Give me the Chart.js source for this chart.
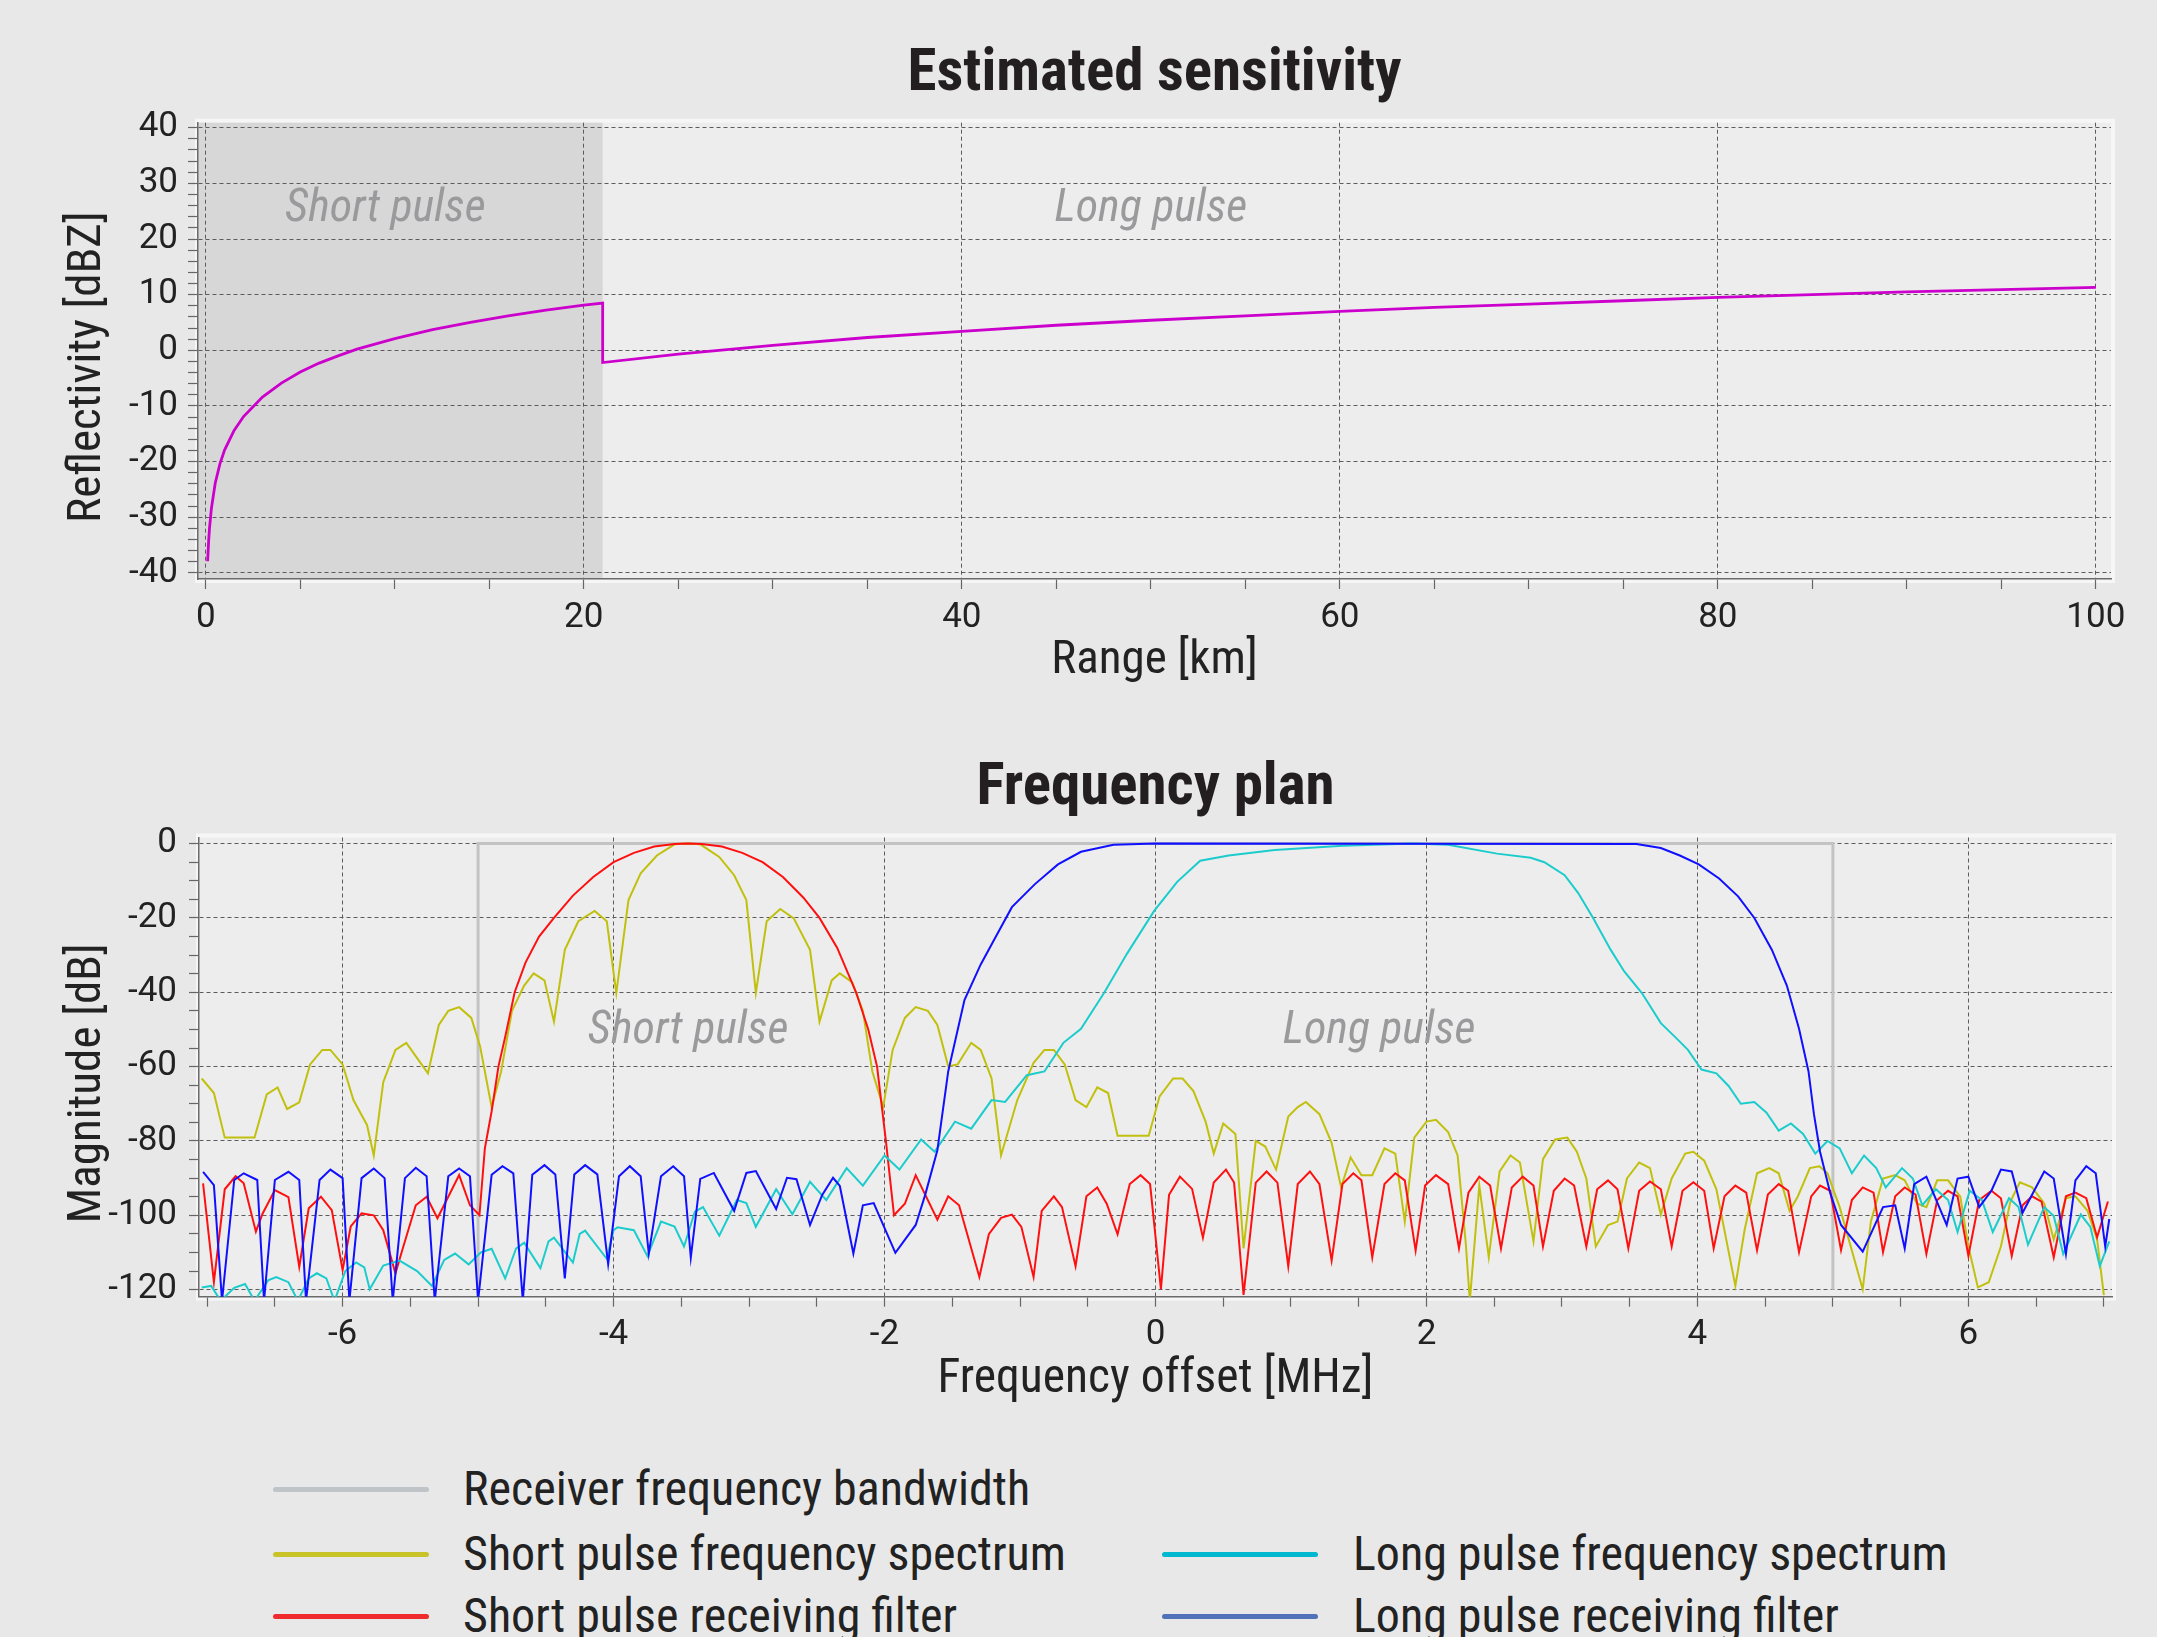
<!DOCTYPE html>
<html><head><meta charset="utf-8">
<script src="https://cdn.jsdelivr.net/npm/chart.js@4.4.1/dist/chart.umd.min.js"></script>
<style>
html,body{margin:0;padding:0;background:#e8e8e8;width:2157px;height:1637px;overflow:hidden;}
#c1{position:absolute;left:0;top:0;}
#c2{position:absolute;left:0;top:700px;}
.lg-line{position:absolute;height:5px;border-radius:3px;}
.lg-text{position:absolute;font-family:'Roboto Condensed',Roboto,sans-serif;font-size:48px;line-height:56px;color:#222;white-space:nowrap;}
</style></head><body>
<canvas id="c1" width="2157" height="700"></canvas>
<canvas id="c2" width="2157" height="720"></canvas>
<div id="legend"></div>
<script>
// ---------------- DATA ----------------
// Top chart: estimated sensitivity (range km, reflectivity dBZ)
const sensitivityPts = [
 [0.1,-37.9],[0.15,-34.4],[0.2,-31.9],[0.3,-28.4],[0.5,-23.9],[0.75,-20.4],[1,-17.9],[1.5,-14.4],
 [2,-11.9],[3,-8.4],[4,-5.9],[5,-3.9],[6,-2.3],[7,-1.0],[8,0.2],[10,2.1],[12,3.7],[14,5.0],
 [16,6.2],[18,7.2],[20,8.1],[21,8.5],[21,-2.2],[25,-0.7],[30,0.9],[35,2.3],[40,3.4],[45,4.5],
 [50,5.4],[55,6.2],[60,7.0],[65,7.7],[70,8.3],[75,8.9],[80,9.5],[85,10.0],[90,10.5],[95,10.9],[100,11.3]
];
const SHORT_PULSE_END_KM = 21;
const rangeTickLabels = [0,20,40,60,80,100];
const reflTickLabels = [-40,-30,-20,-10,0,10,20,30,40];
const topRegionLabels = ['Short pulse','Long pulse'];
const topRegionLabelX = [9.5, 50];
const topRegionLabelY = [25.3, 25.3];

// Bottom chart: frequency plan (offset MHz, magnitude dB)
const bandwidthPts = [[-5,-120],[-5,0],[5,0],[5,-120]];
const shortSpectrumPts = [
 [-7.04,-63.2],[-6.95,-67.1],[-6.87,-79.1],[-6.65,-79.1],[-6.56,-67.5],[-6.48,-65.6],[-6.41,-71.4],[-6.32,-69.6],
 [-6.24,-59.4],[-6.15,-55.5],[-6.09,-55.5],[-6.00,-59.4],[-5.92,-69],[-5.82,-75.7],[-5.77,-83.9],[-5.70,-64.2],
 [-5.61,-55.5],[-5.53,-53.6],[-5.37,-61.8],[-5.29,-48.8],[-5.22,-45],[-5.14,-44],[-5.05,-46.9],[-4.985,-54.6],
 [-4.90,-70.9],[-4.83,-61.3],[-4.75,-45],[-4.66,-38.2],[-4.59,-34.9],[-4.51,-36.8],[-4.44,-47.9],[-4.36,-28.6],
 [-4.26,-20.9],[-4.14,-18.1],[-4.05,-20.9],[-3.98,-40.2],[-3.89,-15.2],[-3.80,-8.0],[-3.68,-3.2],[-3.55,-0.2],
 [-3.45,0],[-3.36,-0.2],[-3.22,-3.6],[-3.11,-8.5],[-3.02,-15.2],[-2.95,-40.2],[-2.87,-20.9],[-2.77,-17.6],
 [-2.67,-20.1],[-2.55,-28.6],[-2.48,-47.9],[-2.39,-36.8],[-2.33,-34.9],[-2.24,-37.3],[-2.16,-45],[-2.09,-61.3],
 [-2.01,-70.9],[-1.94,-55.5],[-1.85,-46.9],[-1.77,-44],[-1.68,-45],[-1.61,-48.8],[-1.53,-59.9],[-1.46,-59.4],
 [-1.36,-53.6],[-1.29,-55.5],[-1.21,-63.2],[-1.14,-83.9],[-1.02,-69],[-0.90,-59],[-0.82,-55.5],[-0.75,-55.5],
 [-0.67,-59.4],[-0.59,-69],[-0.51,-70.9],[-0.43,-65.6],[-0.35,-67.1],[-0.28,-78.6],[-0.05,-78.6],[0.03,-68],
 [0.13,-63.2],[0.20,-63.2],[0.28,-66.6],[0.37,-74.8],[0.43,-83.4],[0.50,-75.3],[0.59,-78.1],[0.65,-108.9],
 [0.74,-80],[0.81,-81.5],[0.89,-87.7],[0.98,-73.4],[1.05,-70.9],[1.11,-69.5],[1.21,-72.8],[1.30,-80.5],
 [1.37,-92.5],[1.44,-84.4],[1.52,-89.2],[1.60,-89.2],[1.69,-82],[1.77,-83.4],[1.84,-101.7],[1.91,-79.1],
 [2.00,-74.8],[2.07,-74.3],[2.16,-77.6],[2.23,-83.9],[2.29,-107.5],[2.32,-123],[2.39,-92],[2.46,-111.3],
 [2.54,-88.2],[2.62,-83.9],[2.69,-85.8],[2.79,-107],[2.86,-84.9],[2.95,-79.6],[3.04,-79.1],[3.11,-82.9],
 [3.18,-90.1],[3.25,-108.4],[3.34,-102.6],[3.41,-101.7],[3.48,-90.1],[3.57,-85.8],[3.65,-87.3],[3.73,-99.8],
 [3.81,-90.1],[3.91,-83.4],[3.97,-82.9],[4.05,-85.3],[4.14,-93],[4.28,-119],[4.35,-103.6],[4.44,-88.7],
 [4.53,-87.3],[4.60,-88.7],[4.68,-98.8],[4.74,-95],[4.83,-87.3],[4.90,-86.8],[4.96,-88.7],[5.05,-97.8],
 [5.22,-119.9],[5.28,-101.7],[5.37,-90.1],[5.46,-89.2],[5.53,-90.6],[5.62,-96.8],[5.69,-97.8],[5.77,-90.6],
 [5.85,-90.6],[5.94,-95],[6.00,-108.4],[6.07,-119.4],[6.15,-118],[6.24,-108.4],[6.31,-96.3],[6.38,-91.1],
 [6.47,-92.5],[6.56,-96.8],[6.63,-106.5],[6.72,-95.4],[6.79,-94.9],[6.88,-98.8],[6.95,-106.5],[7.00,-121.5]
];
const shortFilterPts = [
 [-7.03,-91.4],[-6.95,-118],[-6.87,-93],[-6.79,-89.5],[-6.73,-91.4],[-6.64,-104.4],[-6.59,-99.5],[-6.50,-93.2],
 [-6.40,-95.1],[-6.32,-113.9],[-6.25,-98.1],[-6.16,-95],[-6.08,-98.6],[-6.00,-114.7],[-5.94,-103],[-5.86,-99.5],
 [-5.77,-100],[-5.70,-104],[-5.61,-115.6],[-5.56,-109.4],[-5.46,-97.3],[-5.38,-95],[-5.30,-100.8],[-5.22,-95],
 [-5.14,-89.2],[-5.06,-97.3],[-4.99,-100],[-4.95,-82],[-4.90,-72],[-4.85,-60],[-4.80,-52],[-4.73,-40],
 [-4.65,-32],[-4.55,-25],[-4.44,-20],[-4.30,-14],[-4.15,-9],[-4.00,-5],[-3.85,-2.5],[-3.70,-0.8],
 [-3.55,-0.1],[-3.45,0],[-3.35,-0.1],[-3.20,-0.8],[-3.05,-2.5],[-2.90,-5],[-2.75,-9],[-2.60,-14.5],
 [-2.48,-20],[-2.35,-28],[-2.21,-40],[-2.12,-50],[-2.055,-60],[-1.99,-80],[-1.96,-90],[-1.93,-100],
 [-1.85,-96.9],[-1.77,-89.2],[-1.61,-101.2],[-1.53,-94.9],[-1.45,-97.3],[-1.30,-116.6],[-1.23,-105.1],[-1.14,-100.7],
 [-1.06,-99.8],[-0.99,-103.1],[-0.90,-116.6],[-0.84,-98.8],[-0.75,-94.9],[-0.69,-97.8],[-0.59,-113.7],[-0.51,-94.9],
 [-0.43,-92.5],[-0.36,-96.9],[-0.28,-105.1],[-0.19,-91.6],[-0.11,-89.2],[-0.04,-91.6],[0.04,-119.9],[0.10,-94.5],
 [0.18,-89.6],[0.27,-92.9],[0.35,-106],[0.43,-91.2],[0.52,-87.7],[0.58,-91.2],[0.65,-121.4],[0.74,-91.2],
 [0.82,-88.2],[0.90,-91.2],[0.98,-113.7],[1.05,-91.6],[1.14,-88.2],[1.21,-91.6],[1.30,-112.2],[1.38,-91.6],
 [1.46,-88.7],[1.52,-90.6],[1.60,-111.3],[1.69,-91.6],[1.77,-88.7],[1.84,-90.6],[1.92,-109.5],[1.99,-92],
 [2.07,-89.2],[2.16,-91.6],[2.24,-108.9],[2.31,-93.9],[2.39,-89.6],[2.47,-92],[2.55,-108.9],[2.63,-92.5],
 [2.71,-89.6],[2.79,-92],[2.86,-108.4],[2.94,-93.4],[3.02,-90.1],[3.09,-92],[3.18,-108.4],[3.26,-93],
 [3.34,-90.6],[3.41,-93],[3.49,-108.9],[3.57,-93.4],[3.65,-90.9],[3.73,-93],[3.81,-108.4],[3.89,-93.4],
 [3.97,-91.1],[4.05,-93.4],[4.12,-108.9],[4.20,-94.9],[4.28,-92],[4.36,-93.9],[4.44,-109.4],[4.52,-94.4],
 [4.60,-91.6],[4.67,-93.4],[4.75,-109.9],[4.84,-94.9],[4.905,-92],[4.98,-93.4],[5.06,-109.4],[5.14,-95.9],
 [5.22,-92.5],[5.30,-93.9],[5.37,-109.9],[5.46,-94.9],[5.53,-92.5],[5.61,-94.4],[5.69,-110.4],[5.77,-95.9],
 [5.85,-93.4],[5.92,-94.9],[6.00,-110.9],[6.08,-95.9],[6.17,-93.4],[6.24,-95.4],[6.32,-110.9],[6.40,-97.3],
 [6.47,-94.9],[6.54,-96.3],[6.63,-111.3],[6.72,-94.9],[6.79,-93.9],[6.87,-95.4],[6.95,-105.9],[7.03,-96.3]
];
const longSpectrumPts = [
 [-7.04,-119.4],[-6.97,-119],[-6.90,-123],[-6.80,-119.5],[-6.72,-118.5],[-6.65,-123],[-6.55,-117.5],[-6.49,-116.6],
 [-6.40,-118],[-6.33,-123],[-6.25,-117],[-6.19,-115.6],[-6.12,-117],[-6.06,-123],[-5.98,-115],[-5.90,-112.7],
 [-5.84,-114],[-5.80,-119.9],[-5.70,-113.5],[-5.58,-112.2],[-5.45,-115],[-5.34,-119],[-5.25,-112],[-5.17,-110.3],
 [-5.07,-113.2],[-4.98,-110],[-4.90,-109],[-4.80,-117],[-4.72,-109],[-4.66,-107.4],[-4.54,-114.2],[-4.48,-107],
 [-4.44,-106],[-4.30,-112.7],[-4.25,-105],[-4.21,-104.1],[-4.05,-111.7],[-4.00,-104],[-3.97,-103.2],[-3.85,-104],
 [-3.75,-111],[-3.65,-101.7],[-3.55,-103],[-3.48,-108.4],[-3.40,-99],[-3.34,-97.8],[-3.22,-105.5],[-3.09,-95.9],
 [-3.02,-96.7],[-2.95,-103.1],[-2.80,-93],[-2.68,-99.7],[-2.55,-91],[-2.43,-95.9],[-2.28,-87.3],[-2.16,-92],
 [-2.00,-83.9],[-1.89,-87.7],[-1.73,-79.6],[-1.63,-82.9],[-1.48,-74.8],[-1.36,-76.7],[-1.21,-69],[-1.11,-69.5],
 [-0.95,-62.3],[-0.82,-61.3],[-0.68,-53.6],[-0.55,-49.8],[-0.38,-40.2],[-0.21,-29.6],[-0.01,-18.1],[0.16,-10.3],
 [0.33,-4.6],[0.54,-3.2],[0.88,-1.7],[1.38,-0.6],[1.90,0],[2.16,-0.3],[2.52,-2.7],[2.77,-3.8],
 [2.87,-5],[3.02,-8.5],[3.12,-13.3],[3.23,-20],[3.36,-28.6],[3.46,-34.4],[3.59,-40.2],[3.73,-48.3],
 [3.84,-52.2],[3.93,-55.5],[4.03,-60.8],[4.14,-61.8],[4.23,-65.2],[4.32,-70],[4.42,-69.5],[4.51,-72.4],
 [4.60,-77.2],[4.69,-75.3],[4.78,-78.1],[4.87,-83.4],[4.96,-80],[5.05,-82],[5.14,-88.7],[5.23,-83.9],
 [5.32,-87.3],[5.39,-92.5],[5.51,-87.3],[5.59,-90.1],[5.66,-97.3],[5.76,-93],[5.85,-95.9],[5.92,-104.5],
 [6.01,-93.4],[6.10,-95.9],[6.18,-104.5],[6.30,-95.4],[6.37,-97.8],[6.44,-107.9],[6.56,-97.8],[6.63,-100.2],
 [6.70,-110.4],[6.83,-99.8],[6.90,-103.1],[6.97,-113.7],[7.04,-107]
];
const longFilterPts = [
 [-7.03,-88.3],[-6.95,-91.9],[-6.89,-123],[-6.80,-90.5],[-6.73,-88.7],[-6.63,-90.5],[-6.58,-123],[-6.50,-90.5],
 [-6.40,-88.3],[-6.32,-90.5],[-6.27,-123],[-6.17,-90.5],[-6.09,-87.7],[-6.00,-90],[-5.95,-123],[-5.86,-90],
 [-5.77,-87.4],[-5.69,-90],[-5.63,-123],[-5.54,-90],[-5.46,-87.2],[-5.38,-89.5],[-5.32,-123],[-5.22,-89.5],
 [-5.14,-87.4],[-5.06,-89.5],[-5.00,-123],[-4.90,-89.1],[-4.82,-86.8],[-4.74,-88.7],[-4.67,-123],[-4.60,-89.1],
 [-4.51,-86.5],[-4.43,-89],[-4.36,-117],[-4.29,-89],[-4.21,-86.5],[-4.12,-89],[-4.04,-113.1],[-3.96,-89.5],
 [-3.88,-86.8],[-3.80,-89.5],[-3.74,-110.3],[-3.65,-89.5],[-3.56,-86.8],[-3.48,-89.5],[-3.43,-111.4],[-3.36,-90.2],
 [-3.26,-88.6],[-3.11,-98.8],[-3.02,-88.6],[-2.95,-88.1],[-2.80,-98.3],[-2.72,-89.9],[-2.65,-90.3],[-2.55,-102.6],
 [-2.46,-94.5],[-2.38,-89.9],[-2.33,-92.1],[-2.23,-110.3],[-2.16,-97.3],[-2.08,-96.7],[-1.92,-110.1],[-1.77,-102.6],
 [-1.70,-94.5],[-1.61,-82.5],[-1.53,-61.3],[-1.41,-42.1],[-1.29,-32.5],[-1.19,-25.8],[-1.06,-17.1],[-0.89,-10.9],
 [-0.72,-5.6],[-0.55,-2.2],[-0.31,-0.3],[0.00,0],[3.55,-0.1],[3.73,-1.2],[3.87,-3.2],[4.01,-5.6],
 [4.16,-9.4],[4.30,-14.2],[4.42,-20],[4.55,-28.6],[4.66,-38.2],[4.75,-49.8],[4.82,-61.3],[4.86,-72.8],
 [4.905,-82.9],[4.98,-94],[5.06,-102.6],[5.22,-109.8],[5.37,-97.8],[5.46,-97.3],[5.53,-108.9],[5.60,-91.6],
 [5.69,-89.6],[5.84,-102.6],[5.92,-90.1],[6.00,-89.6],[6.08,-97.8],[6.17,-93.4],[6.24,-87.7],[6.32,-88.2],
 [6.40,-99.3],[6.56,-88.2],[6.63,-90.1],[6.72,-110.4],[6.79,-90.6],[6.87,-86.8],[6.94,-88.7],[7.01,-108.4],[7.04,-101]
];
const freqTickLabels = [-6,-4,-2,0,2,4,6];
const magTickLabels = [-120,-100,-80,-60,-40,-20,0];
const bottomRegionLabels = ['Short pulse','Long pulse'];
const bottomRegionLabelX = [-3.45, 1.65];
const bottomRegionLabelY = [-50.5, -50.5];

const legendLabels = ['Receiver frequency bandwidth','Short pulse frequency spectrum','Short pulse receiving filter','Long pulse frequency spectrum','Long pulse receiving filter'];
const legendColors = ['#bec4c7','#c9c32a','#ef2b2d','#00b8d0','#4f72b8'];

// ---------------- HELPERS ----------------
const COND = "'Roboto Condensed', Roboto, sans-serif";
const REG = "Roboto, sans-serif";
const toXY = pts => pts.map(p => ({x: p[0], y: p[1]}));
function steps(a, b, s) { const r = []; for (let v = a; v <= b + 1e-9; v += s) r.push(Math.round(v * 1000) / 1000); return r; }

const plotDecor = {
  id: 'plotDecor',
  beforeDraw(chart, args, opts) {
    const {ctx, chartArea: a} = chart;
    ctx.save();
    ctx.fillStyle = '#f6f6f6';
    ctx.fillRect(a.left - 3, a.top - 4, a.right - a.left + 7, a.bottom - a.top + 8);
    ctx.fillStyle = '#ededed';
    ctx.fillRect(a.left, a.top, a.right - a.left, a.bottom - a.top);
    if (opts.shadeTo !== null && opts.shadeTo !== undefined) {
      const x2 = chart.scales.x.getPixelForValue(opts.shadeTo);
      ctx.fillStyle = '#d7d7d7';
      ctx.fillRect(a.left, a.top, x2 - a.left, a.bottom - a.top);
    }
    ctx.restore();
  },
  beforeDatasetsDraw(chart, args, opts) {
    const {ctx} = chart;
    ctx.save();
    ctx.font = 'italic 46px ' + COND;
    ctx.fillStyle = '#9a9a9c';
    ctx.textAlign = 'center';
    ctx.textBaseline = 'middle';
    (opts.labels || []).forEach((t, i) => {
      ctx.fillText(t, chart.scales.x.getPixelForValue(opts.labelX[i]), chart.scales.y.getPixelForValue(opts.labelY[i]));
    });
    ctx.restore();
  }
};

function makeAxis(cfg) {
  return {
    type: 'linear', min: cfg.min, max: cfg.max, bounds: 'data',
    afterBuildTicks: s => { s.ticks = cfg.tickVals.map(v => ({value: v})); },
    afterFit: s => { if (cfg.width) s.width = cfg.width; if (cfg.height) s.height = cfg.height; },
    ticks: {
      autoSkip: false, maxRotation: 0, minRotation: 0, padding: cfg.pad, color: '#222',
      font: {family: REG, size: 35},
      callback: v => cfg.labels.includes(v) ? String(v) : ''
    },
    grid: {
      color: c => (c.tick && cfg.labels.includes(c.tick.value)) ? '#5c5c5c' : 'rgba(0,0,0,0)',
      lineWidth: 1, tickColor: '#666', tickLength: 10, tickWidth: 1.2, drawTicks: true
    },
    border: {display: true, color: '#6a6a6a', width: 1.5, dash: [4, 3]},
    title: {display: true, text: cfg.title, color: '#222', font: {family: COND, size: cfg.titleSize || 47, lineHeight: 1.2}, padding: cfg.titlePad}
  };
}

const lineDs = (label, pts, color, width, order) => ({
  label, data: toXY(pts), borderColor: color, backgroundColor: color, borderWidth: width,
  pointRadius: 0, pointHoverRadius: 0, tension: 0, fill: false, order
});

// ---------------- TOP CHART ----------------
new Chart(document.getElementById('c1'), {
  type: 'line',
  data: {datasets: [lineDs('Estimated sensitivity', sensitivityPts, '#cc00cc', 2.8, 0)]},
  options: {
    responsive: false, animation: false, devicePixelRatio: 1,
    layout: {padding: {top: 0, left: 0, right: 46, bottom: 0}},
    scales: {
      x: makeAxis({min: -0.41, max: 100.8, tickVals: steps(0, 100, 5), labels: rangeTickLabels, pad: 8, height: 121,
                   title: 'Range [km]', titlePad: {top: 0, bottom: 11}}),
      y: makeAxis({min: -41.1, max: 40.9, tickVals: steps(-40, 40, 2), labels: reflTickLabels, pad: 10, width: 198,
                   title: 'Reflectivity [dBZ]   ', titlePad: {top: 60, bottom: 0}})
    },
    plugins: {
      legend: {display: false}, tooltip: {enabled: false},
      title: {display: true, text: 'Estimated sensitivity', fullSize: false, color: '#231f20',
              font: {family: COND, size: 59, weight: 'bold', lineHeight: 1.2}, padding: {top: 40, bottom: 11.9}},
      plotDecor: {shadeTo: SHORT_PULSE_END_KM, labels: topRegionLabels, labelX: topRegionLabelX, labelY: topRegionLabelY}
    }
  },
  plugins: [plotDecor]
});

// ---------------- BOTTOM CHART ----------------
new Chart(document.getElementById('c2'), {
  type: 'line',
  data: {datasets: [
    lineDs(legendLabels[0], bandwidthPts, '#c3c3c3', 3, 4),
    lineDs(legendLabels[1], shortSpectrumPts, '#c2c00e', 2, 3),
    lineDs(legendLabels[2], shortFilterPts, '#ff1010', 2, 2),
    lineDs(legendLabels[3], longSpectrumPts, '#1ccccc', 2, 1),
    lineDs(legendLabels[4], longFilterPts, '#1010ff', 2, 0)
  ]},
  options: {
    responsive: false, animation: false, devicePixelRatio: 1,
    layout: {padding: {top: 0, left: 0, right: 45, bottom: 0}},
    scales: {
      x: makeAxis({min: -7.06, max: 7.06, tickVals: steps(-7, 7, 0.5), labels: freqTickLabels, pad: 8, height: 123.3,
                   title: 'Frequency offset [MHz]', titleSize: 47.5, titlePad: {top: 0, bottom: 11.8}}),
      y: makeAxis({min: -121.9, max: 1.64, tickVals: steps(-120, 0, 5), labels: magTickLabels, pad: 12, width: 199,
                   title: 'Magnitude [dB]   ', titlePad: {top: 60, bottom: 0}})
    },
    plugins: {
      legend: {display: false}, tooltip: {enabled: false},
      title: {display: true, text: 'Frequency plan', fullSize: false, color: '#231f20',
              font: {family: COND, size: 59, weight: 'bold', lineHeight: 1.2}, padding: {top: 54.1, bottom: 12.6}},
      plotDecor: {shadeTo: null, labels: bottomRegionLabels, labelX: bottomRegionLabelX, labelY: bottomRegionLabelY}
    }
  },
  plugins: [plotDecor]
});

// ---------------- LEGEND (HTML) ----------------
(function () {
  const colLine = [273, 1162], colText = [463, 1353], rowY = [1489, 1554, 1616];
  const slots = [[0,0],[0,1],[0,2],[1,1],[1,2]];
  const box = document.getElementById('legend');
  legendLabels.forEach((lab, i) => {
    const [c, r] = slots[i];
    const ln = document.createElement('div');
    ln.className = 'lg-line';
    ln.style.left = colLine[c] + 'px'; ln.style.width = '156px';
    ln.style.top = (rowY[r] - 2.5) + 'px'; ln.style.background = legendColors[i];
    box.appendChild(ln);
    const tx = document.createElement('div');
    tx.className = 'lg-text';
    tx.style.left = colText[c] + 'px'; tx.style.top = (rowY[r] - 28) + 'px';
    tx.textContent = lab;
    box.appendChild(tx);
  });
})();
</script>
</body></html>
